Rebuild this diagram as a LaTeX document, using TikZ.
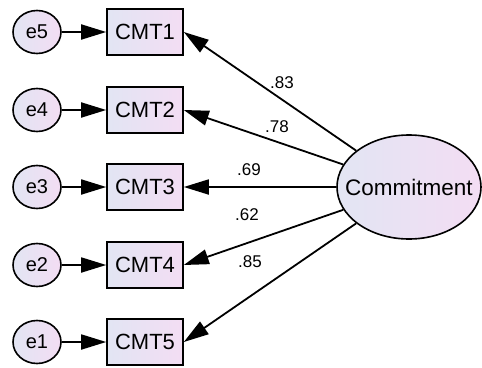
\documentclass[tikz,border=0pt]{standalone}
\usepackage{fontspec}
\setmainfont{Liberation Sans}
\usetikzlibrary{shapes.geometric,arrows.meta}
\definecolor{fillL}{RGB}{226,229,243}
\definecolor{fillR}{RGB}{243,221,243}
\begin{document}
\begin{tikzpicture}[x=1pt,y=-1pt,
  errnode/.style={ellipse,draw,line width=1.6pt,minimum width=48pt,minimum height=43pt,inner sep=0pt,
    left color=fillL,right color=fillR,font=\fontsize{20}{22}\selectfont},
  itembox/.style={rectangle,draw,line width=1.6pt,minimum width=76pt,minimum height=46pt,inner sep=0pt,
    left color=fillL,right color=fillR,font=\fontsize{22}{24}\selectfont},
  latent/.style={ellipse,draw,line width=1.6pt,minimum width=144pt,minimum height=104pt,inner sep=0pt,
    left color=fillL,right color=fillR},
  latentname/.style={font=\fontsize{22.5}{24}\selectfont,inner sep=0pt},
  path/.style={line width=1.8pt,-{Triangle[length=25pt,width=15pt]}},
  coef/.style={font=\fontsize{17}{19}\selectfont,inner sep=1pt}]
\useasboundingbox (0,0) rectangle (482,367);
% latent factor (outline, then its name on top)
\node[latent] (com) at (409,187) {};
\node[latentname] (comname) at (com.center) {Commitment};
% indicators and their error terms
\foreach \i/\e/\y in {1/5/32,2/4/110,3/3/187,4/2/265,5/1/342}{
  \node[errnode] (e\e) at (37,\y) {e\e};
  \node[itembox] (cmt\i) at (145,\y) {CMT\i};
  \draw[path] (e\e) -- (cmt\i);
  \draw[path] (com) -- (cmt\i.east);
}
% standardized loadings
\node[coef] (l1) at (282,83) {.83};
\node[coef] (l2) at (277,127) {.78};
\node[coef] (l3) at (249,170) {.69};
\node[coef] (l4) at (247,215) {.62};
\node[coef] (l5) at (250,262) {.85};
\end{tikzpicture}
\end{document}
